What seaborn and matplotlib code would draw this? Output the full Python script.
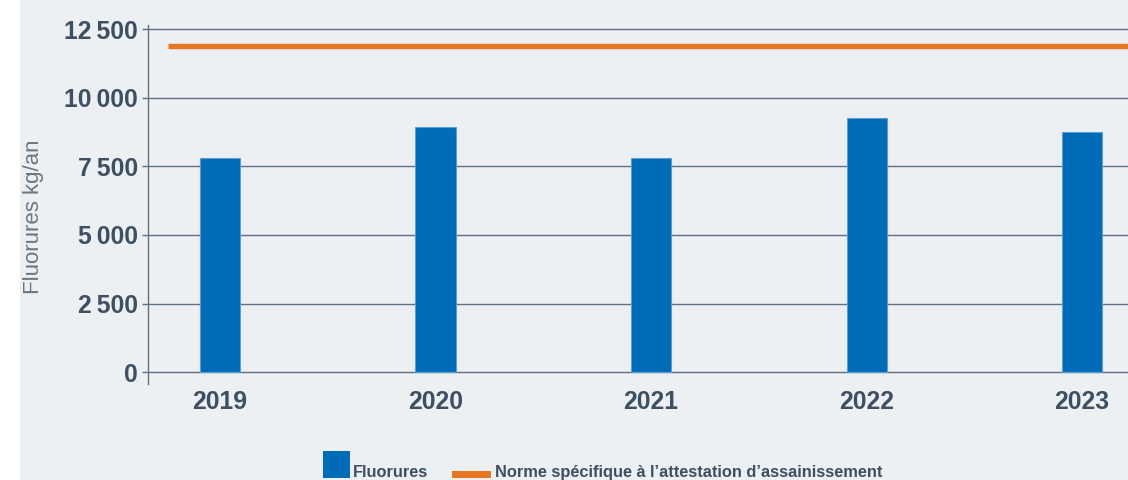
import matplotlib
matplotlib.use("Agg")
import matplotlib.pyplot as plt
import seaborn as sns
import pandas as pd
from matplotlib.patches import Rectangle, Patch
from matplotlib.legend_handler import HandlerPatch

# données
ANNEES = ["2019", "2020", "2021", "2022", "2023"]
FLUORURES = [7790, 8940, 7790, 9250, 8750]
NORME = 11880
Y_TICKS = [0, 2500, 5000, 7500, 10000, 12500]

BLEU = "#006bb6"
ORANGE = "#e87722"
FOND = "#ecf0f3"
TEXTE = "#3d4f61"
LIGNE = "#5f7080"

W, H = 1128, 480


def format_number(number):
    '''
    Espace fine entre les milliers
    '''
    return f"{number:,}".replace(",", "\u2009")


def handle_box(y0, hauteur):
    '''
    Poignée de légende rectangulaire posée sur la ligne de base du texte
    (y0 et hauteur en fraction de la taille de police)
    '''
    def make(legend, orig_handle, xdescent, ydescent, width, height, fontsize):
        return Rectangle((-xdescent, y0 * fontsize), width, hauteur * fontsize)
    return HandlerPatch(patch_func=make)


sns.set_theme(style="white")
plt.rcParams["font.family"] = ["Liberation Sans", "DejaVu Sans"]

fig = plt.figure(figsize=(W / 100, H / 100), dpi=100, facecolor="white")
fig.patches.append(Rectangle((20 / W, 0), 1, 1, transform=fig.transFigure,
                             facecolor=FOND, edgecolor="none", zorder=-10))

ax = fig.add_axes([148 / W, 1 - 384 / H, 1 - 148 / W, (384 - 25) / H])
ax.set_zorder(1)
ax.set_facecolor(FOND)

df = pd.DataFrame({"Annee": ANNEES, "Fluorures": FLUORURES})
sns.barplot(data=df, x="Annee", y="Fluorures", order=ANNEES, color=BLEU,
            saturation=1, width=0.186, edgecolor="#5e9fd3", linewidth=0.8,
            ax=ax, zorder=3)

ax.axhline(NORME, xmin=0.0204, xmax=1, color=ORANGE, lw=3.9,
           solid_capstyle="butt", zorder=4)

ax.set_xlim(-0.334, 4.213)
ax.set_ylim(-426, 12646)
ax.set_axisbelow(True)
ax.grid(axis="y", color=LIGNE, lw=1)
ax.grid(axis="x", visible=False)

for side in ["top", "right", "bottom"]:
    ax.spines[side].set_visible(False)
ax.spines["left"].set_color(LIGNE)
ax.spines["left"].set_linewidth(1)

ax.set_yticks(Y_TICKS, labels=[format_number(v) for v in Y_TICKS], fontweight="bold")
ax.set_xticks(range(len(ANNEES)), labels=ANNEES, fontweight="bold")
ax.tick_params(axis="y", left=True, length=4.3, width=1, color=LIGNE, pad=3,
               labelsize=17.8, labelcolor=TEXTE)
ax.tick_params(axis="x", length=0, pad=4, labelsize=17.8, labelcolor=TEXTE)
ax.set_xlabel("")
ax.set_ylabel("")

fig.text(34 / W, 1 - 217 / H, "Fluorures kg/an", rotation=90, ha="center",
         va="center", fontsize=16, color="#6c7782")

# légende en deux morceaux (poignées de tailles différentes)
h1 = Patch(facecolor=BLEU, edgecolor="none", label="Fluorures")
h2 = Patch(facecolor=ORANGE, edgecolor="none",
           label="Norme spécifique à l’attestation d’assainissement")
common = dict(loc="lower left", frameon=False, labelcolor=TEXTE,
              prop={"weight": "bold", "size": 11.8}, borderpad=0, borderaxespad=0)
fig.legend(handles=[h1], bbox_to_anchor=(323 / W, -2.5 / H), handlelength=1.65,
           handleheight=1.65, handletextpad=0.2,
           handler_map={h1: handle_box(-0.06, 1.65)}, **common)
fig.legend(handles=[h2], bbox_to_anchor=(452 / W, -0.5 / H), handlelength=2.35,
           handletextpad=0.25,
           handler_map={h2: handle_box(-0.02, 0.4)}, **common)

fig.savefig("out.png", dpi=100, facecolor="white")
